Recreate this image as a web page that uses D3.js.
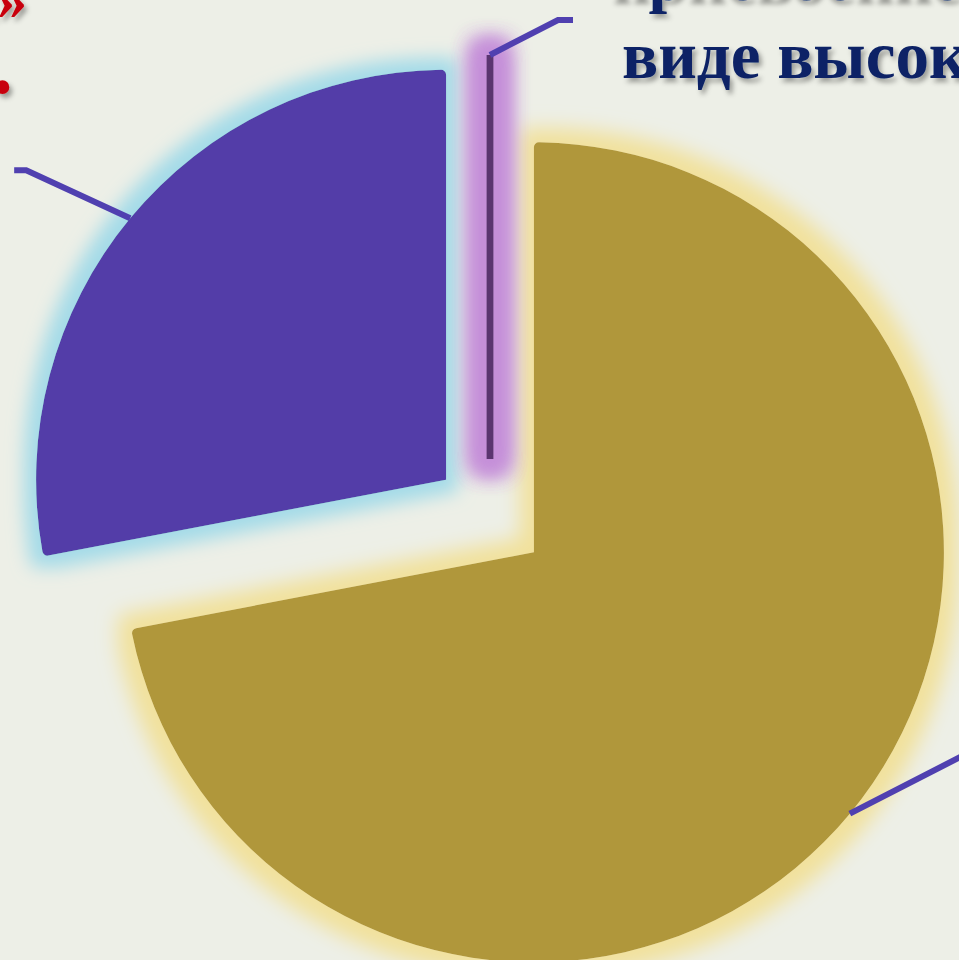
<!DOCTYPE html>
<html>
<head>
<meta charset="utf-8">
<script src="https://cdn.jsdelivr.net/npm/d3@7"></script>
<style>
	body { margin: 0; background: #edefe7; }
	svg { display: block; }
</style>
</head>
<body>
<div id="viz"></div>
<script>
// pie data (labels sit off the visible crop)
let categories = ["Высшая категория", "Первая категория", "Без категории"];
let values = [72, 28, 0];
let fills = ["#b0973a", "#523ea8", "#5a3570"];
let glows = ["#f1e19c", "#a4dbe8", "#c58fd9"];
let titleLines = ["присвоение квалификации в", "виде высокой"];
let redLines = ["«Профессионал»", "."];

function draw() {
	let width = 959;
	let height = 960;
	let cx = 490, cy = 516; // pie centre
	let radius = 410;
	let explode = 57;

	let svg = d3.select("#viz").append("svg")
		.attr("width", width)
		.attr("height", height);

	svg.append("rect")
		.attr("width", width).attr("height", height)
		.style("fill", "#edefe7");

	let defs = svg.append("defs");

	// soft coloured halo round each slice
	let glowSpec = [{blur: 10, grow: 14, layers: 1}, {blur: 9, grow: 12, layers: 1}, {blur: 11, grow: 13, layers: 3}];
	glows.forEach((c, i) => {
		let f = defs.append("filter").attr("id", "glow" + i)
			.attr("filterUnits", "userSpaceOnUse")
			.attr("x", -700).attr("y", -700).attr("width", 1400).attr("height", 1400);
		f.append("feMorphology").attr("in", "SourceAlpha").attr("operator", "dilate")
			.attr("radius", glowSpec[i].grow).attr("result", "d");
		f.append("feGaussianBlur").attr("in", "d").attr("stdDeviation", glowSpec[i].blur).attr("result", "b");
		f.append("feFlood").attr("flood-color", c);
		f.append("feComposite").attr("in2", "b").attr("operator", "in").attr("result", "g");
		let m = f.append("feMerge");
		for (let k = 0; k < glowSpec[i].layers; k++) m.append("feMergeNode").attr("in", "g");
		m.append("feMergeNode").attr("in", "SourceGraphic");
	});

	let shadow = defs.append("filter").attr("id", "shadow")
		.attr("x", "-10%").attr("y", "-30%").attr("width", "130%").attr("height", "180%");
	shadow.append("feDropShadow").attr("dx", 3).attr("dy", 4).attr("stdDeviation", 2.5)
		.attr("flood-color", "#000").attr("flood-opacity", 0.35);

	let pie = d3.pie().sort(null).value(d => d)(values);
	let arc = d3.arc().innerRadius(0).outerRadius(radius).cornerRadius(5);

	let g = svg.append("g").attr("transform", "translate(" + cx + "," + cy + ")");

	let slices = g.selectAll("g.slice").data(pie).enter().append("g")
		.attr("class", "slice")
		.attr("transform", d => {
			let a = (d.startAngle + d.endAngle) / 2;
			return "translate(" + (Math.sin(a) * explode) + "," + (-Math.cos(a) * explode) + ")";
		});

	slices.append("path")
		.attr("d", d => d.value > 0 ? arc(d) : "M0,0L0," + (-radius + 6))
		.attr("fill", (d, i) => d.value > 0 ? fills[i] : "none")
		.attr("stroke", (d, i) => d.value > 0 ? "none" : fills[i])
		.attr("stroke-width", 7)
		.attr("filter", (d, i) => "url(#glow" + i + ")");

	// leader lines, starting at the middle of each outer arc
	let leaders = [
		[[0, 0], [113, -58], [200, -100]],
		[[0, 0], [-104, -48], [-116, -48]],
		[[0, 0], [68, -35], [83, -35]]
	];
	slices.append("path")
		.attr("d", (d, i) => {
			let a = (d.startAngle + d.endAngle) / 2;
			let r = d.value > 0 ? radius : radius - 6;
			let x0 = Math.sin(a) * r, y0 = -Math.cos(a) * r;
			return d3.line()(leaders[i].map(p => [x0 + p[0], y0 + p[1]]));
		})
		.attr("fill", "none")
		.attr("stroke", "#5040b0")
		.attr("stroke-width", 6);

	// title text, cropped by the frame
	svg.selectAll("text.title").data(titleLines).enter().append("text")
		.attr("class", "title")
		.attr("x", (d, i) => i === 0 ? 610 : 622)
		.attr("y", (d, i) => i === 0 ? 0 : 78)
		.style("font-family", "'Liberation Serif', 'DejaVu Serif', serif")
		.style("font-weight", "bold")
		.style("font-size", "67px")
		.style("fill", "#0c2466")
		.attr("filter", "url(#shadow)")
		.text(d => d);

	svg.selectAll("text.red").data(redLines).enter().append("text")
		.attr("class", "red")
		.attr("x", (d, i) => i === 0 ? 27 : 13)
		.attr("y", (d, i) => i === 0 ? 19 : 93)
		.attr("text-anchor", "end")
		.style("font-family", "'Liberation Serif', 'DejaVu Serif', serif")
		.style("font-weight", "bold")
		.style("font-size", (d, i) => i === 0 ? "60px" : "84px")
		.style("fill", "#c8000a")
		.attr("filter", "url(#shadow)")
		.text(d => d);
}

draw();
</script>
</body>
</html>
